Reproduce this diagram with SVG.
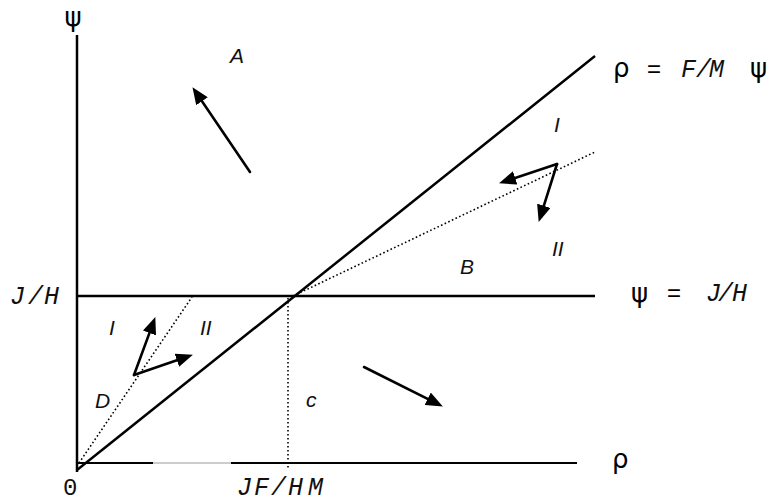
<svg xmlns="http://www.w3.org/2000/svg" width="774" height="504" viewBox="0 0 774 504">
<style>
.ax{stroke:#000;stroke-width:2.5;fill:none}
.th{stroke:#000;stroke-width:2;fill:none}
.dot{stroke:#000;stroke-width:1.6;stroke-dasharray:1.6 2.4;fill:none}
.arr{stroke:#000;stroke-width:2.6;fill:none;stroke-linecap:round;marker-end:url(#ah)}
.gr{font-family:"DejaVu Sans","Liberation Sans",sans-serif;font-size:26px;fill:#000}
.mono{font-family:"Liberation Mono","Courier New",monospace;font-style:italic;font-size:25px;fill:#111}
.eq{font-family:"Liberation Sans",sans-serif;font-size:24px;fill:#000}
.hand{font-family:"Liberation Sans",sans-serif;font-style:italic;font-size:21px;fill:#111}
</style>
<defs>
<marker id="ah" markerUnits="userSpaceOnUse" markerWidth="18" markerHeight="14" refX="10" refY="7" orient="auto" viewBox="0 0 18 14">
<path d="M0,0 L17,7 L0,14 z" fill="#000"/>
</marker>
</defs>
<rect width="774" height="504" fill="#fff"/>
<g id="axes">
<line class="ax" x1="77" y1="35" x2="77" y2="472"/>
<line class="th" x1="77" y1="463" x2="153" y2="463"/>
<line stroke="#999" stroke-width="1" x1="153" y1="463" x2="231" y2="463"/>
<line class="th" x1="231" y1="463" x2="577" y2="463"/>
</g>
<g id="lines">
<line class="ax" x1="77" y1="296" x2="595" y2="296"/>
<line class="ax" x1="77" y1="470" x2="595" y2="56"/>
<line class="dot" x1="288" y1="298" x2="288" y2="469"/>
<line class="dot" x1="293" y1="296" x2="595" y2="152"/>
<line class="dot" x1="79" y1="463" x2="192" y2="297"/>
</g>
<g id="connectors">
<line class="arr" x1="250" y1="172" x2="196.4" y2="93"/>
<line class="arr" x1="557" y1="164" x2="505.7" y2="181.1"/>
<line class="arr" x1="557" y1="164" x2="540.8" y2="215.3"/>
<line class="arr" x1="134" y1="375" x2="152.9" y2="323.6"/>
<line class="arr" x1="134" y1="375" x2="186.3" y2="357"/>
<line class="arr" x1="364" y1="367" x2="436.6" y2="403.3"/>
</g>
<g id="label-psi-axis"><text class="gr" x="73" y="26" text-anchor="middle">ψ</text></g>
<g id="label-rho-axis"><text class="gr" x="612" y="468">ρ</text></g>
<g id="label-zero"><text x="63" y="495" style="font-family:'Liberation Mono',monospace;font-size:24px;fill:#111">0</text></g>
<g id="label-JH-left"><text class="mono" x="10 28 44" y="304">J/H</text></g>
<g id="label-JFHM"><text class="mono" x="237 254 271 288 308" y="495">JF/HM</text></g>
<g id="label-diag">
<text class="gr" x="613" y="77">ρ</text>
<text class="eq" x="647" y="77">=</text>
<text class="mono" x="681 696 709" y="77">F/M</text>
<text class="gr" x="750" y="77">ψ</text>
</g>
<g id="label-horiz">
<text class="gr" x="631" y="302">ψ</text>
<text class="eq" x="667" y="301">=</text>
<text class="mono" x="706 718 732" y="301">J/H</text>
</g>
<g id="region-A"><text class="hand" x="230" y="63">A</text></g>
<g id="region-B"><text class="hand" x="460" y="274">B</text></g>
<g id="region-C"><text class="hand" x="306" y="407">c</text></g>
<g id="region-D"><text class="hand" x="95" y="408">D</text></g>
<g id="label-I-upper"><text class="hand" x="554" y="132">I</text></g>
<g id="label-II-upper"><text class="hand" x="552" y="256">II</text></g>
<g id="label-I-lower"><text class="hand" x="109" y="335">I</text></g>
<g id="label-II-lower"><text class="hand" x="200" y="335">II</text></g>
</svg>
